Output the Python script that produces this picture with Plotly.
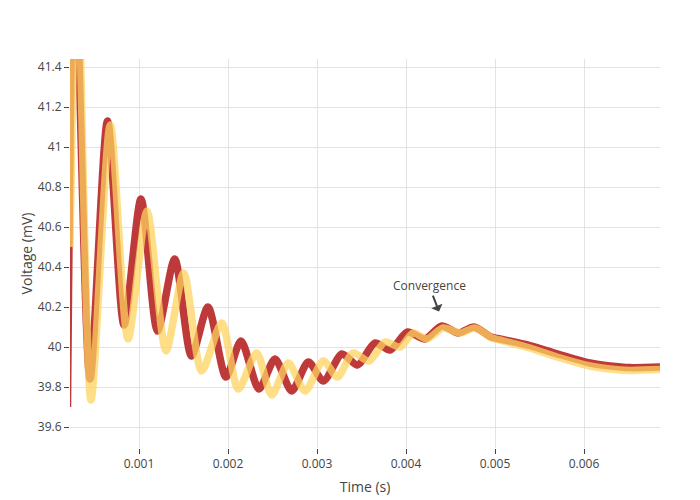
import plotly.graph_objects as go

# Time (s) and voltage (mV) for the two traces
t_red = [0.0001966, 0.0002753, 0.0004494, 0.0006461, 0.0008315, 0.0010225, 0.0012079,
         0.0014011, 0.0015899, 0.0017753, 0.0019775, 0.0021461, 0.0023483, 0.0025281,
         0.0027157, 0.0029022, 0.0030730, 0.0032809, 0.0034551, 0.0036517, 0.0038202,
         0.0040169, 0.0042135, 0.0044011, 0.0045876, 0.0047640, 0.0049551, 0.0050562,
         0.0053933, 0.0056966, 0.0060674, 0.0062921, 0.0065169, 0.0068539]
v_red = [39.70, 42.10, 39.84, 41.13, 40.11, 40.74, 40.08,
         40.44, 39.955, 40.20, 39.85, 40.03, 39.79, 39.94,
         39.78, 39.925, 39.83, 39.965, 39.91, 40.02, 39.985,
         40.075, 40.04, 40.105, 40.07, 40.10, 40.05, 40.04,
         40.007, 39.966, 39.92, 39.905, 39.897, 39.90]

t_yellow = [0.0002247, 0.0003034, 0.0004607, 0.0006775, 0.0008764, 0.0010899, 0.0013034,
            0.0015022, 0.0017045, 0.0019292, 0.0021157, 0.0023225, 0.0024910, 0.0026775,
            0.0028652, 0.0030708, 0.0032303, 0.0034045, 0.0035843, 0.0037640, 0.0039326,
            0.0040820, 0.0042326, 0.0044191, 0.0046067, 0.0047753, 0.0049663, 0.0050562,
            0.0053933, 0.0056966, 0.0060674, 0.0062921, 0.0065169, 0.0068539]
v_yellow = [40.50, 42.00, 39.735, 41.11, 40.04, 40.68, 39.98,
            40.37, 39.88, 40.12, 39.79, 39.97, 39.76, 39.92,
            39.78, 39.93, 39.85, 39.97, 39.93, 40.025, 40.00,
            40.07, 40.04, 40.095, 40.07, 40.095, 40.045, 40.035,
            39.995, 39.95, 39.905, 39.89, 39.883, 39.887]

x_range = [0.0002247, 0.0068539]
y_range = [39.495, 41.44]
annotation_point = (0.004371, 40.177)

fig = go.Figure()
fig.add_trace(go.Scatter(x=t_red, y=v_red, mode="lines",
                         line=dict(color="rgb(190,58,58)", width=7.5, shape="spline",
                                   smoothing=0.75),
                         showlegend=False))
fig.add_trace(go.Scatter(x=t_yellow, y=v_yellow, mode="lines",
                         line=dict(color="rgba(255,210,95,0.74)", width=7.5, shape="spline",
                                   smoothing=0.75),
                         showlegend=False))

fig.add_annotation(x=annotation_point[0], y=annotation_point[1], text="Convergence",
                   showarrow=True, arrowhead=1, arrowwidth=2, arrowsize=1, arrowcolor="#444",
                   ax=-10, ay=-26, font=dict(size=12, color="#444"))

fig.update_layout(
    width=692, height=492,
    template="none",
    paper_bgcolor="white", plot_bgcolor="white",
    font=dict(family="Open Sans, verdana, arial, sans-serif", size=12, color="#444"),
    margin=dict(l=62, r=40, t=51, b=52),
    xaxis=dict(title=dict(text="Time (s)", standoff=10), range=x_range, showgrid=True,
               gridcolor="#e3e3e3", zeroline=False, showline=False, ticks="outside",
               ticklen=5, tickcolor="#444",
               tickvals=[0.001, 0.002, 0.003, 0.004, 0.005, 0.006],
               ticktext=["0.001", "0.002", "0.003", "0.004", "0.005", "0.006"]),
    yaxis=dict(title=dict(text="Voltage (mV)"), range=y_range, showgrid=True,
               gridcolor="#e3e3e3", zeroline=False, showline=False,
               ticks="outside", ticklen=5, tickcolor="#444", dtick=0.2),
)

fig.write_html("out.html")
